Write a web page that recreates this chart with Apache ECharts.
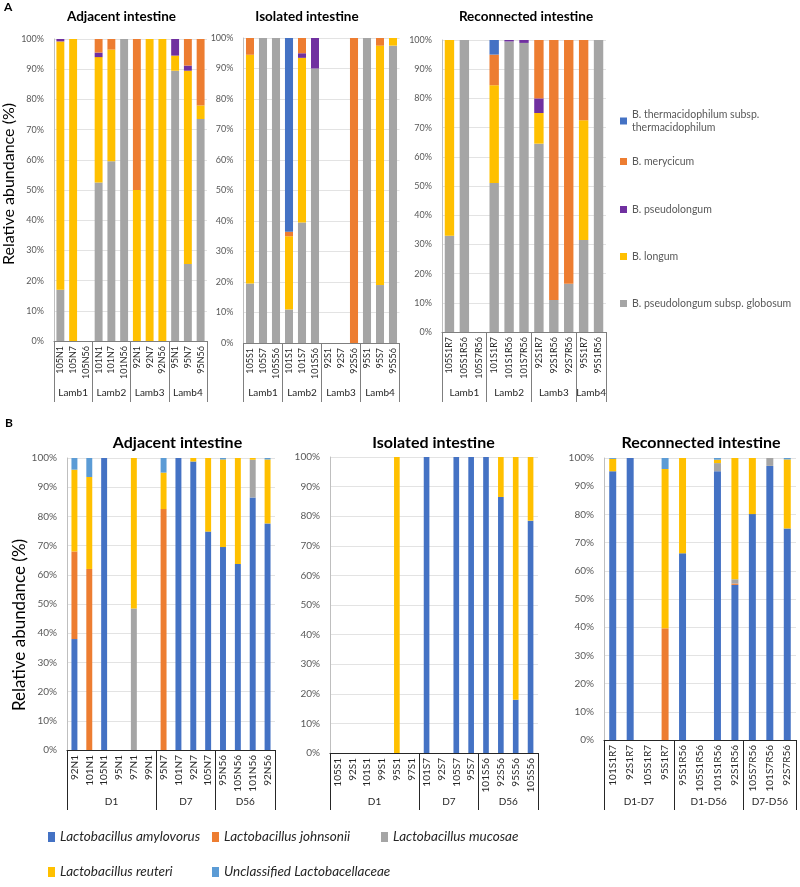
<!DOCTYPE html>
<html><head><meta charset="utf-8">
<script src="https://cdn.jsdelivr.net/npm/echarts@6/dist/echarts.min.js"></script>
<style>html,body{margin:0;padding:0;background:#fff}#c{width:800px;height:887px}</style>
</head><body><div id="c"></div>
<script>
// ---------- Panel A : Bifidobacterium ----------
const speciesA = ['B. pseudolongum subsp. globosum','B. longum','B. pseudolongum','B. merycicum','B. thermacidophilum subsp. thermacidophilum'];
const groupsLamb = ['Lamb1','Lamb2','Lamb3','Lamb4'];

const aAdjSamples = ['105N1','105N7','105N56','101N1','101N7','101N56','92N1','92N7','92N56','95N1','95N7','95N56'];
const aAdjGroupSizes = [3,3,3,3];
const aAdjGlobosum     = [17,0,0,52.5,59.5,100,0,0,0,89.5,25.5,73.5];
const aAdjLongum       = [82.2,100,0,41.5,37,0,50,100,100,5,64,4.5];
const aAdjPseudolongum = [0.8,0,0,1.5,0,0,0,0,0,5.5,1.7,0];
const aAdjMerycicum    = [0,0,0,4.5,3.5,0,50,0,0,0,8.8,22];
const aAdjThermacid    = [0,0,0,0,0,0,0,0,0,0,0,0];

const aIsoSamples = ['105S1','105S7','105S56','101S1','101S7','101S56','92S1','92S7','92S56','95S1','95S7','95S56'];
const aIsoGroupSizes = [3,3,3,3];
const aIsoGlobosum     = [19.5,100,100,11,39.5,90,0,0,0,100,19,97.5];
const aIsoLongum       = [75,0,0,24,54,0,0,0,0,0,78.5,2.5];
const aIsoPseudolongum = [0,0,0,0,1.5,10,0,0,0,0,0,0];
const aIsoMerycicum    = [5.5,0,0,1.5,5,0,0,0,100,0,2.5,0];
const aIsoThermacid    = [0,0,0,63.5,0,0,0,0,0,0,0,0];

const aRecSamples = ['105S1R7','105S1R56','105S7R56','101S1R7','101S1R56','101S7R56','92S1R7','92S1R56','92S7R56','95S1R7','95S1R56'];
const aRecGroupSizes = [3,3,3,2];
const aRecGlobosum     = [33,100,0,51,99.5,99,64.5,11,16.5,31.5,100];
const aRecLongum       = [67,0,0,33.5,0,0,10.5,0,0,41,0];
const aRecPseudolongum = [0,0,0,0,0.5,1,5,0,0,0,0];
const aRecMerycicum    = [0,0,0,10.5,0,0,20,89,83.5,27.5,0];
const aRecThermacid    = [0,0,0,5,0,0,0,0,0,0,0];

// ---------- Panel B : Lactobacillus ----------
const speciesB = ['Lactobacillus amylovorus','Lactobacillus johnsonii','Lactobacillus mucosae','Lactobacillus reuteri','Unclassified Lactobacellaceae'];

const bAdjSamples = ['92N1','101N1','105N1','95N1','97N1','99N1','95N7','101N7','92N7','105N7','95N56','105N56','101N56','92N56'];
const bAdjGroups = ['D1','D7','D56'];
const bAdjGroupSizes = [6,4,4];
const bAdjAmylovorus = [38,0,100,0,0,0,0,100,98.8,74.8,69.5,63.7,86.5,77.6];
const bAdjJohnsonii  = [30,62,0,0,0,0,82.5,0,0,0,0,0,0,0];
const bAdjMucosae    = [0,0,0,0,48.5,0,0,0,0,0,0,0,12.9,0];
const bAdjReuteri    = [28,31.5,0,0,51.5,0,12.5,0,1.2,25.2,30,36.3,0.6,21.9];
const bAdjUnclass    = [4,6.5,0,0,0,0,5,0,0,0,0.5,0,0,0.5];

const bIsoSamples = ['105S1','92S1','101S1','99S1','95S1','97S1','101S7','92S7','105S7','95S7','101S56','92S56','95S56','105S56'];
const bIsoGroups = ['D1','D7','D56'];
const bIsoGroupSizes = [6,4,4];
const bIsoAmylovorus = [0,0,0,0,0,0,100,0,100,100,100,86.5,18,78.5];
const bIsoJohnsonii  = [0,0,0,0,0,0,0,0,0,0,0,0,0,0];
const bIsoMucosae    = [0,0,0,0,0,0,0,0,0,0,0,0,0,0];
const bIsoReuteri    = [0,0,0,0,100,0,0,0,0,0,0,13.5,82,21.5];
const bIsoUnclass    = [0,0,0,0,0,0,0,0,0,0,0,0,0,0];

const bRecSamples = ['101S1R7','92S1R7','105S1R7','95S1R7','95S1R56','105S1R56','101S1R56','92S1R56','105S7R56','101S7R56','92S7R56'];
const bRecGroups = ['D1-D7','D1-D56','D7-D56'];
const bRecGroupSizes = [4,4,3];
const bRecAmylovorus = [95.3,100,0,0,66.2,0,95.3,55,80.1,97.2,75];
const bRecJohnsonii  = [0,0,0,39.6,0,0,0,0.5,0,0,0];
const bRecMucosae    = [0,0,0,0,0,0,2.9,1.5,0,2.8,0];
const bRecReuteri    = [4.4,0,0,56.5,33.8,0,1.2,43,19.9,0,24.5];
const bRecUnclass    = [0.3,0,0,3.9,0,0,0.6,0,0,0,0.5];

// ---------- styling ----------
const colorsA = ['#A5A5A5','#FFC000','#7030A0','#ED7D31','#4472C4'];
const colorsB = ['#4472C4','#ED7D31','#A5A5A5','#FFC000','#5B9BD5'];
const FONT = 'Lato';

const panels = [
  {g:{left:54,top:39,width:153,height:302}, samples:aAdjSamples, groups:groupsLamb, sizes:aAdjGroupSizes,
   values:[aAdjGlobosum,aAdjLongum,aAdjPseudolongum,aAdjMerycicum,aAdjThermacid], species:speciesA, colors:colorsA,
   bw:'62%', lab:9, cat:9, grpFs:10, grpMargin:47, tick:61, line:'#7f7f7f', yName:true, nameFs:16, nameGap:29, namePad:[0,0,0,12]},
  {g:{left:243.5,top:38,width:156,height:305}, samples:aIsoSamples, groups:groupsLamb, sizes:aIsoGroupSizes,
   values:[aIsoGlobosum,aIsoLongum,aIsoPseudolongum,aIsoMerycicum,aIsoThermacid], species:speciesA, colors:colorsA,
   bw:'62%', lab:9, cat:9, grpFs:10, grpMargin:45, tick:59, line:'#7f7f7f'},
  {g:{left:442,top:40,width:164,height:292}, samples:aRecSamples, groups:groupsLamb, sizes:aRecGroupSizes,
   values:[aRecGlobosum,aRecLongum,aRecPseudolongum,aRecMerycicum,aRecThermacid], species:speciesA, colors:colorsA,
   bw:'63%', lab:9, cat:9, grpFs:10, grpMargin:56, tick:70, line:'#7f7f7f'},
  {g:{left:67,top:458,width:208,height:292}, samples:bAdjSamples, groups:bAdjGroups, sizes:bAdjGroupSizes,
   values:[bAdjAmylovorus,bAdjJohnsonii,bAdjMucosae,bAdjReuteri,bAdjUnclass], species:speciesB, colors:colorsB,
   bw:'40%', lab:10, cat:10, grpFs:10, grpMargin:47, tick:60, line:'#262626', yName:true, nameFs:17, nameGap:37, namePad:[0,42,0,0]},
  {g:{left:330,top:457,width:208,height:296}, samples:bIsoSamples, groups:bIsoGroups, sizes:bIsoGroupSizes,
   values:[bIsoAmylovorus,bIsoJohnsonii,bIsoMucosae,bIsoReuteri,bIsoUnclass], species:speciesB, colors:colorsB,
   bw:'38%', lab:10, cat:10, grpFs:10, grpMargin:44, tick:57, line:'#262626'},
  {g:{left:604,top:458,width:192,height:282}, samples:bRecSamples, groups:bRecGroups, sizes:bRecGroupSizes,
   values:[bRecAmylovorus,bRecJohnsonii,bRecMucosae,bRecReuteri,bRecUnclass], species:speciesB, colors:colorsB,
   bw:'40%', lab:10, cat:10, grpFs:10, grpMargin:57, tick:70, line:'#262626'}
];

const grid = [], xAxis = [], yAxis = [], series = [];
panels.forEach((p, i) => {
  grid.push(Object.assign({outerBoundsMode:'none', containLabel:false}, p.g));
  // sample axis
  xAxis.push({type:'category', gridIndex:i, data:p.samples, position:'bottom',
    axisLine:{show:true, lineStyle:{color:p.line, width:1}},
    axisTick:{show:false},
    axisLabel:{interval:0, rotate:90, margin:5, fontSize:p.cat, color:'#262626', fontFamily:FONT}
  });
  // group axis (value axis spanning same band positions)
  const bounds = [0]; p.sizes.forEach(s => bounds.push(bounds[bounds.length-1] + s));
  const centers = p.sizes.map((s, k) => bounds[k] + s/2);
  xAxis.push({type:'value', gridIndex:i, position:'bottom', min:0, max:p.samples.length, offset:0,
    axisLine:{show:false}, splitLine:{show:false},
    axisTick:{show:true, customValues:bounds, length:p.tick, lineStyle:{color:p.line, width:1}},
    axisLabel:{show:true, customValues:centers, margin:p.grpMargin, fontSize:p.grpFs, color:'#262626', fontFamily:FONT,
      formatter: v => { let k = centers.findIndex(c => Math.abs(c - v) < 1e-6); return k >= 0 ? p.groups[k] : ''; }}
  });
  yAxis.push({type:'value', gridIndex:i, min:0, max:100, interval:10,
    name: p.yName ? 'Relative abundance (%)' : '', nameLocation:'middle', nameGap:p.nameGap || 30,
    nameTextStyle:{fontSize:p.nameFs || 14, color:'#000', fontFamily:FONT, padding:p.namePad || 0},
    axisLine:{show:true, lineStyle:{color:'#bfbfbf'}},
    axisTick:{show:false},
    splitLine:{show:true, lineStyle:{color:'#e3e3e3'}},
    axisLabel:{formatter:'{value}%', fontSize:p.lab, color:'#595959', margin:10, fontFamily:FONT}
  });
  p.species.forEach((name, k) => {
    series.push({type:'bar', name, stack:'s'+i, xAxisIndex:2*i, yAxisIndex:i, barWidth:p.bw,
      itemStyle:{color:p.colors[k]}, data:p.values[k], animation:false, emphasis:{disabled:true}});
  });
});

// legends
const legend = [];
const legATops = [108, 155, 203, 250, 297];
const legAOrder = [4,3,2,1,0];
legAOrder.forEach((k, j) => {
  legend.push({data:[speciesA[k]], left:620, top:legATops[j], padding:0, orient:'vertical',
    icon:'rect', itemWidth:7, itemHeight:7, selectedMode:false,
    textStyle:{fontSize:10.5, color:'#595959', fontFamily:FONT, lineHeight:13},
    formatter: n => n === 'B. thermacidophilum subsp. thermacidophilum' ? 'B. thermacidophilum subsp.\nthermacidophilum' : n
  });
});
const legBPos = [[48,828],[212,828],[381,828],[48,863],[212,863]];
speciesB.forEach((name, k) => {
  legend.push({data:[name], left:legBPos[k][0], top:legBPos[k][1], padding:0,
    icon:'rect', itemWidth:7, itemHeight:10, selectedMode:false,
    textStyle:{fontSize:13.5, fontStyle:'italic', color:'#262626', fontFamily:FONT, lineHeight:18}
  });
});

const titles = [
  ['Adjacent intestine',121.5,17,13.5], ['Isolated intestine',307,17,13.5], ['Reconnected intestine',526,17,13.5],
  ['Adjacent intestine',177.5,443,16], ['Isolated intestine',433.5,443,16], ['Reconnected intestine',701,443,16]
];
const graphic = titles.map(t => ({type:'text', x:t[1], y:t[2], style:{text:t[0], x:0, y:0, align:'center', verticalAlign:'middle',
  font:`bold ${t[3]}px ${FONT}`, fill:'#000'}}));
graphic.push({type:'text', x:4, y:7, style:{text:'A', align:'left', verticalAlign:'middle', font:`bold 12px ${FONT}`, fill:'#000'}});
graphic.push({type:'text', x:5, y:423, style:{text:'B', align:'left', verticalAlign:'middle', font:`bold 12px ${FONT}`, fill:'#000'}});

const chart = echarts.init(document.getElementById('c'), null, {renderer:'canvas'});
chart.setOption({animation:false, backgroundColor:'#fff', textStyle:{fontFamily:FONT},
  grid, xAxis, yAxis, series, legend, graphic});
</script></body></html>
